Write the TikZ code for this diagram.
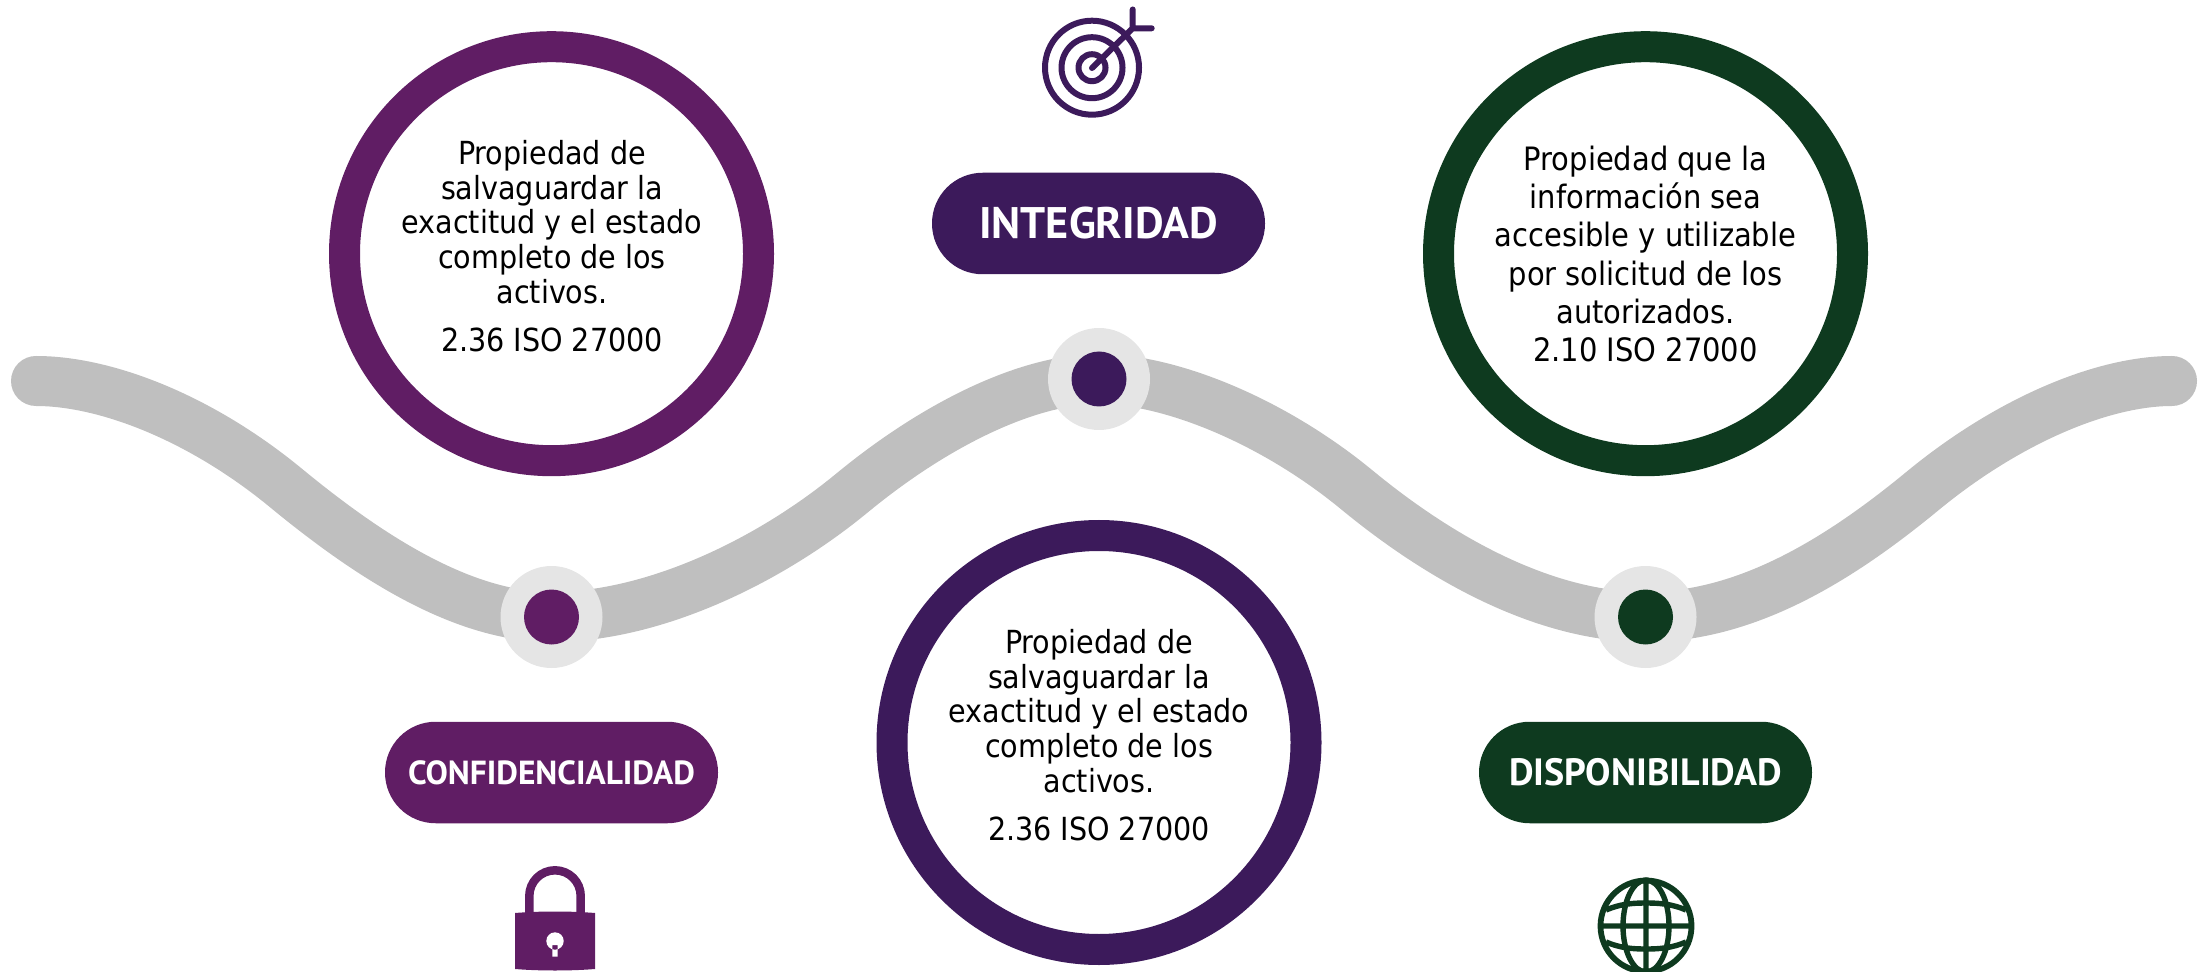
\documentclass[tikz,border=0pt]{standalone}
\usepackage{fontspec}
\setmainfont{DejaVu Sans Condensed}
\newfontfamily\labelfont{PT Sans}
\definecolor{cpurple}{HTML}{601D64}
\definecolor{cviolet}{HTML}{3C1A5B}
\definecolor{cgreen}{HTML}{0E3A1F}
\begin{document}
\begin{tikzpicture}[x=0.5pt,y=-0.5pt,
  ring/.style={circle,draw=#1,line width=15.5pt,minimum size=207pt,inner sep=0pt},
  body/.style={align=center,text=black,inner sep=0pt,font=\fontsize{15.9}{17.35}\selectfont},
  bodywide/.style={align=center,text=black,inner sep=0pt,font=\fontsize{16.1}{19.17}\selectfont},
  pillbox/.style={rounded corners=25.3pt,fill=#1,text=white,minimum width=166.5pt,minimum height=50.75pt,inner sep=0pt},
  halo/.style={circle,fill=black!10,minimum size=51pt,inner sep=0pt},
  dot/.style={circle,fill=#1,minimum size=27.5pt,inner sep=0pt},
  icon/.style={draw=#1,line width=3pt,line cap=round,line join=round}]
\useasboundingbox (0,0) rectangle (2209,972);
\coordinate (w0) at (36,381);
\coordinate (w1) at (2172,381);
\coordinate (p1) at (551.5,617);
\coordinate (p2) at (1099,379);
\coordinate (p3) at (1645.5,617);
\coordinate (j1) at (286,488);
\coordinate (j2) at (852,493);
\coordinate (j3) at (1357,490);
\coordinate (j4) at (1922.5,491);
\draw[line width=25pt,line cap=round,color=black!25]
  (w0) .. controls +(70,0) and +(-85,-70) .. (j1) .. controls +(85,70) and +(-88,0) .. (p1)
  .. controls +(100,0) and +(-85,70) .. (j2) .. controls +(85,-70) and +(-70,0) .. (p2)
  .. controls +(70,0) and +(-85,-70) .. (j3) .. controls +(85,70) and +(-100,0) .. (p3)
  .. controls +(100,0) and +(-85,70) .. (j4) .. controls +(85,-70) and +(-70,0) .. (w1);
\node[halo] (h1) at (p1) {}; \node[dot=cpurple] (d1) at (p1) {};
\node[halo] (h2) at (p2) {}; \node[dot=cviolet] (d2) at (p2) {};
\node[halo] (h3) at (p3) {}; \node[dot=cgreen] (d3) at (p3) {};
\node[ring=cpurple] (c1) at (551.5,253.7) {};
\node[ring=cviolet] (c2) at (1099,742.5) {};
\node[ring=cgreen] (c3) at (1645.5,253.7) {};
\node[body] (t1) at (552,246) {Propiedad de\\salvaguardar la\\exactitud y el estado\\completo de los\\activos.\\[6.7pt]2.36 ISO 27000};
\node[body] (t2) at (1099,735) {Propiedad de\\salvaguardar la\\exactitud y el estado\\completo de los\\activos.\\[6.7pt]2.36 ISO 27000};
\node[bodywide] (t3) at (1645.5,254) {Propiedad que la\\información sea\\accesible y utilizable\\por solicitud de los\\autorizados.\\2.10 ISO 27000};
\node[pillbox=cpurple,font=\labelfont\bfseries\fontsize{16.7}{18}\selectfont] (l1) at (551.5,772.5) {CONFIDENCIALIDAD};
\node[pillbox=cviolet,font=\labelfont\bfseries\fontsize{22.1}{24}\selectfont] (l2) at (1098.5,223.5) {INTEGRIDAD};
\node[pillbox=cgreen,font=\labelfont\bfseries\fontsize{19}{20}\selectfont] (l3) at (1645.5,772.5) {DISPONIBILIDAD};
% target icon
\draw[icon=cviolet] (1092,67.7) circle (47) (1092,67.7) circle (30.5) (1092,67.7) circle (13.5);
\draw[icon=cviolet] (1092,68) -- (1132.7,28.3) -- (1132.7,9.5) (1132.7,28.3) -- (1151.7,28.3);
% lock icon
\draw[cpurple,line width=4.25pt] (529.3,914) -- (529.3,896) arc[start angle=180,end angle=360,radius=25.7] -- (580.7,914);
\fill[cpurple] (515,913) .. controls (540,911) and (570,911) .. (595,913) -- (595,969) .. controls (570,971) and (540,971) .. (515,969) -- cycle;
\fill[white] (555,941) circle (8.7) (552.3,945) rectangle (557.7,956.7);
% globe icon
\begin{scope}
\clip (0,0) rectangle (2209,972);
\draw[cgreen,line width=2.9pt] (1646,926) circle (45.5);
\draw[cgreen,line width=2.7pt] (1646,880) -- (1646,972) (1600,926) -- (1692,926)
  (1646,926) ellipse (23 and 46)
  (1606,910) .. controls (1620,904) and (1632,903) .. (1646,903) .. controls (1660,903) and (1672,904) .. (1686,910)
  (1606,942) .. controls (1620,948) and (1632,949) .. (1646,949) .. controls (1660,949) and (1672,948) .. (1686,942);
\end{scope}
\end{tikzpicture}
\end{document}
